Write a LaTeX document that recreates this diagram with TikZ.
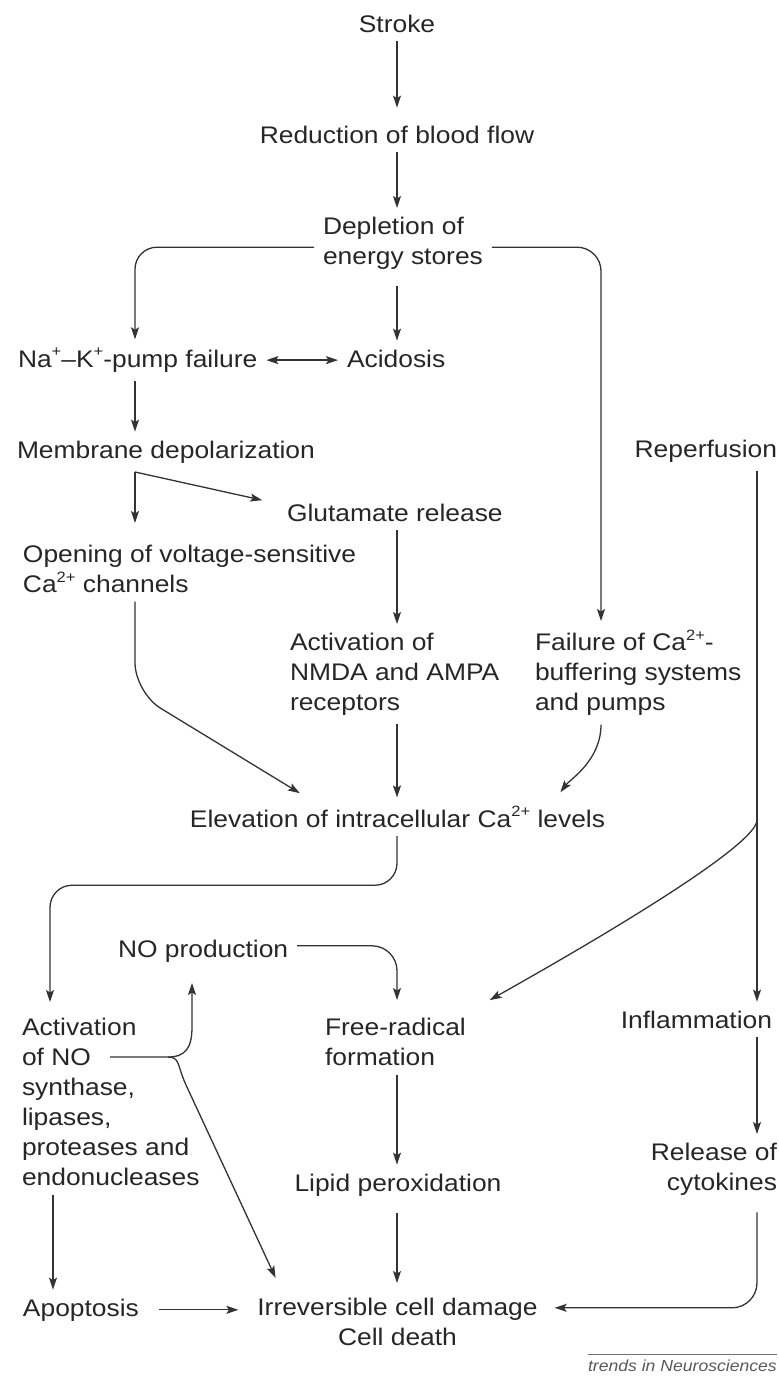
\documentclass[tikz,border=0pt]{standalone}
\usepackage{fontspec}
\setmainfont{Liberation Sans}[FakeStretch=1.1]
\usetikzlibrary{arrows.meta}
\newcommand{\ionup}[1]{\raisebox{0.42em}{\fontsize{15}{15}\selectfont #1}}
\tikzset{
  head/.tip={Stealth[length=12pt,width=8pt,inset=2.5pt]},
  lbl/.style={inner sep=0pt, outer sep=0pt, font=\fontsize{24}{30}\selectfont, text=black!85},
  arr/.style={-head, line width=1.3pt, draw=black!80, shorten <=9pt, shorten >=9pt},
}
\begin{document}
\begin{tikzpicture}[x=1pt, y=-1pt]
\useasboundingbox (0,0) rectangle (779,1376);
\coordinate (cA) at (135,0);
\coordinate (cB) at (397,0);
\coordinate (cC) at (601,0);
\coordinate (cD) at (757,0);
\coordinate (cE) at (50,0);
\coordinate (cF) at (53,0);
\coordinate (cG) at (192,0);
\coordinate (noline) at (110,1057);
\coordinate (fork) at (168,1057);

\node[lbl, anchor=base] (stroke) at (397,32) {Stroke};
\node[lbl, anchor=base] (flow) at (397,143) {Reduction of blood flow};
\node[lbl, anchor=north west, align=left] (energy) at (323,217) {Depletion of\\energy stores};
\node[lbl, anchor=base west] (pump) at (18,367) {Na\ionup{+}--K\ionup{+}-pump failure};
\node[lbl, anchor=base west] (acid) at (347,367) {Acidosis};
\node[lbl, anchor=base west] (depol) at (17,458) {Membrane depolarization};
\node[lbl, anchor=base east] (reperf) at (777,457) {Reperfusion};
\node[lbl, anchor=base west] (glut) at (287,521) {Glutamate release};
\node[lbl, anchor=north west, align=left] (vscc) at (23,545) {Opening of voltage-sensitive\\Ca\ionup{2+} channels};
\node[lbl, anchor=north west, align=left] (nmda) at (290,633) {Activation of\\NMDA and AMPA\\receptors};
\node[lbl, anchor=north west, align=left] (buffer) at (535,630) {Failure of Ca\ionup{2+}-\\buffering systems\\and pumps};
\node[lbl, anchor=base] (calcium) at (397.5,827) {Elevation of intracellular Ca\ionup{2+} levels};
\node[lbl, anchor=base west] (noprod) at (118,957) {NO production};
\node[lbl, anchor=north west, align=left] (enzymes) at (22,1018) {Activation\\of NO\\synthase,\\lipases,\\proteases and\\endonucleases};
\node[lbl, anchor=north west, align=left] (radical) at (325,1018) {Free-radical\\formation};
\node[lbl, anchor=base east] (inflam) at (772,1028) {Inflammation};
\node[lbl, anchor=base] (lipid) at (398,1191) {Lipid peroxidation};
\node[lbl, anchor=north east, align=right] (cytok) at (777,1143) {Release of\\cytokines};
\node[lbl, anchor=base west] (apopt) at (23,1316) {Apoptosis};
\node[lbl, anchor=north, align=center] (death) at (397.5,1298) {Irreversible cell damage\\Cell death};
\node[inner sep=0pt, anchor=base east, font=\fontsize{16}{18}\selectfont\itshape, text=black!65] (credit) at (777,1371) {trends in Neurosciences};
\draw[black!55, line width=0.6pt] ([yshift=5pt]credit.north west) -- ([yshift=5pt]credit.north east);

\draw[arr, shorten >=18pt] (stroke) -- (stroke |- flow.north);
\draw[arr] (flow) -- (flow.south |- energy.north);
\draw[arr, rounded corners=22pt] ([yshift=-4pt]energy.west) -| (pump.north -| cA);
\draw[arr, rounded corners=24pt] ([yshift=-4pt]energy.east) -| (buffer.north -| cC);
\draw[arr, shorten <=17pt] (energy.south -| cB) -- (acid.north -| cB);
\draw[arr, head-head] (pump.east) -- (pump.east -| acid.west);
\draw[arr] (pump.south -| cA) -- (depol.north -| cA);
\path (depol.south -| cA) ++(0,9) coordinate (split);
\draw[arr, shorten <=0pt, shorten >=22pt] (split) -- (vscc.north -| cA);
\draw[arr, shorten <=0pt] (split) -- ([xshift=-16pt,yshift=1.5pt]glut.north west);
\draw[arr] (glut.south -| cB) -- (nmda.north -| cB);
\draw[arr] (reperf.south -| cD) -- (inflam.north -| cD);
\draw[arr, rounded corners=30pt] (vscc.south -| cA) -- ++(0,100) -- ([xshift=-90pt,yshift=8.6pt]calcium.north);
\draw[arr] (nmda.south -| cB) -- (calcium.north -| cB);
\draw[arr] (buffer.south -| cC) .. controls +(0,45) and +(15,-20) .. ([xshift=-50pt,yshift=7pt]calcium.north east);
\draw[arr, rounded corners=22pt, shorten >=16pt] (calcium.south -| cB) -- ++(0,58) -| (enzymes.north -| cE);
\draw[arr] (reperf.south -| cD) -- ++(0,358) .. controls +(0,30) and +(55,-31) .. ([xshift=16pt,yshift=13.5pt]radical.north east);
\draw[arr, rounded corners=25pt, shorten >=18pt] ([yshift=5pt]noprod.east) -| (radical.north -| cB);
\draw[arr, shorten <=0pt, shorten >=21pt] (noline) -- (fork) .. controls +(18,0) and +(0,20) .. ++(24,-30) -- (noprod.south -| cG);
\draw[arr, shorten <=0pt] (fork) .. controls +(12,0) and +(-9,-20) .. ++(18,28) -- ([xshift=22pt,yshift=12pt]death.north west);
\draw[arr] (radical.south -| cB) -- (lipid.north -| cB);
\draw[arr, shorten <=17pt, shorten >=15pt] (lipid.south -| cB) -- (death.north -| cB);
\draw[arr] (inflam.south -| cD) -- (cytok.north -| cD);
\draw[arr, rounded corners=25pt, shorten <=17pt, shorten >=17pt] (cytok.south -| cD) |- ([yshift=14pt]death.east);
\draw[arr] (enzymes.south -| cF) -- (apopt.north -| cF);
\draw[arr, shorten <=20pt, shorten >=19pt] (apopt.east) -- (death.west |- apopt.east);
\end{tikzpicture}
\end{document}
